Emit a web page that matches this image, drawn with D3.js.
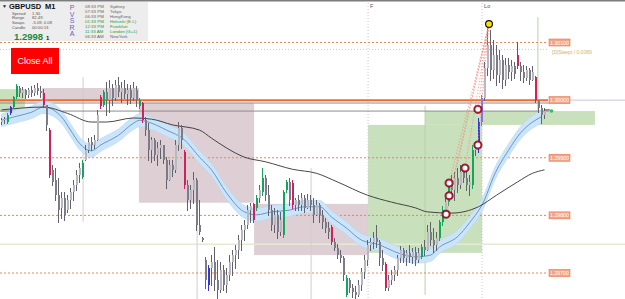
<!DOCTYPE html>
<meta charset="utf-8">
<script src="https://d3js.org/d3.v7.min.js"></script>
<style>
body { margin: 0; background: #fff; }
svg { display: block; font-family: "Liberation Sans", Arial, sans-serif; }
</style>
<body>
<div id="chart"></div>
<script>
// GBPUSD M1 candles (index 0 = leftmost bar)
var highs = [
  1.29969,1.29971,1.29977,1.29990,1.30007,1.30028,1.30024,1.30023,1.30019,1.30021,
  1.30024,1.30026,1.30029,1.30024,1.30019,1.29991,1.29951,1.29887,1.29882,1.29865,
  1.29841,1.29841,1.29835,1.29847,1.29861,1.29879,1.29891,1.29896,1.29922,1.29934,
  1.29936,1.29939,1.29983,1.30009,1.30017,1.30031,1.30035,1.30028,1.30035,1.30040,
  1.30031,1.30035,1.30028,1.30026,1.30031,1.30024,1.30003,1.29997,1.29971,1.29960,
  1.29936,1.29934,1.29927,1.29931,1.29922,1.29901,1.29896,1.29896,1.29931,1.29962,
  1.29957,1.29913,1.29861,1.29853,1.29875,1.29865,1.29827,1.29763,1.29728,1.29714,
  1.29731,1.29745,1.29723,1.29719,1.29714,1.29709,1.29731,1.29740,1.29749,1.29766,
  1.29783,1.29792,1.29818,1.29822,1.29822,1.29835,1.29853,1.29882,1.29870,1.29853,
  1.29818,1.29813,1.29809,1.29806,1.29844,1.29861,1.29865,1.29861,1.29830,1.29835,
  1.29839,1.29835,1.29837,1.29835,1.29830,1.29827,1.29822,1.29809,1.29796,1.29789,
  1.29783,1.29761,1.29750,1.29740,1.29730,1.29697,1.29692,1.29681,1.29678,1.29688,
  1.29709,1.29731,1.29757,1.29761,1.29771,1.29783,1.29757,1.29740,1.29719,1.29697,
  1.29705,1.29712,1.29731,1.29747,1.29744,1.29740,1.29749,1.29744,1.29745,1.29744,
  1.29750,1.29757,1.29783,1.29789,1.29778,1.29771,1.29792,1.29816,1.29830,1.29861,
  1.29870,1.29875,1.29882,1.29887,1.29887,1.29879,1.29870,1.29922,1.29927,1.29969,
  1.30009,1.30066,1.30132,1.30121,1.30104,1.30095,1.30087,1.30078,1.30073,1.30073,
  1.30069,1.30066,1.30101,1.30066,1.30061,1.30059,1.30055,1.30059,1.30042,1.30000,
  1.29991,1.29986];
var lows = [
  1.29958,1.29960,1.29960,1.29976,1.29986,1.30003,1.30007,1.30005,1.30003,1.30005,
  1.30007,1.30009,1.30010,1.30005,1.29988,1.29948,1.29867,1.29853,1.29827,1.29789,
  1.29796,1.29792,1.29806,1.29813,1.29827,1.29844,1.29858,1.29865,1.29896,1.29910,
  1.29913,1.29917,1.29931,1.29986,1.29990,1.29974,1.29979,1.29991,1.30000,1.30007,
  1.29997,1.30003,1.29993,1.29995,1.30000,1.29990,1.29986,1.29962,1.29939,1.29896,
  1.29893,1.29896,1.29887,1.29899,1.29891,1.29847,1.29861,1.29868,1.29875,1.29913,
  1.29917,1.29847,1.29809,1.29813,1.29822,1.29775,1.29768,1.29756,1.29674,1.29671,
  1.29679,1.29671,1.29657,1.29667,1.29671,1.29667,1.29688,1.29697,1.29709,1.29726,
  1.29740,1.29757,1.29778,1.29789,1.29789,1.29809,1.29823,1.29835,1.29827,1.29801,
  1.29775,1.29771,1.29761,1.29766,1.29763,1.29841,1.29818,1.29813,1.29809,1.29809,
  1.29809,1.29806,1.29813,1.29809,1.29789,1.29801,1.29789,1.29778,1.29771,1.29761,
  1.29750,1.29740,1.29726,1.29719,1.29688,1.29660,1.29667,1.29659,1.29657,1.29660,
  1.29671,1.29692,1.29714,1.29740,1.29744,1.29745,1.29714,1.29705,1.29671,1.29671,
  1.29681,1.29688,1.29697,1.29719,1.29719,1.29714,1.29719,1.29718,1.29714,1.29719,
  1.29726,1.29731,1.29740,1.29749,1.29737,1.29740,1.29757,1.29783,1.29801,1.29818,
  1.29830,1.29827,1.29841,1.29847,1.29858,1.29844,1.29835,1.29847,1.29905,1.29910,
  1.29957,1.30000,1.30043,1.30035,1.30038,1.30026,1.30031,1.30021,1.30026,1.30038,
  1.30035,1.30038,1.30055,1.30035,1.30031,1.30035,1.30028,1.30035,1.29997,1.29979,
  1.29960,1.29969];
var opens = [
  1.29962,1.29965,1.29962,1.29977,1.29988,1.30005,1.30021,1.30012,1.30017,1.30009,
  1.30017,1.30012,1.30021,1.30016,1.30012,1.29991,1.29948,1.29879,1.29861,1.29835,
  1.29813,1.29830,1.29809,1.29827,1.29841,1.29853,1.29870,1.29867,1.29896,1.29913,
  1.29927,1.29922,1.29931,1.30005,1.29991,1.30014,1.30000,1.30021,1.30003,1.30026,
  1.30014,1.30021,1.30010,1.30017,1.30003,1.30017,1.29990,1.29995,1.29965,1.29948,
  1.29913,1.29931,1.29905,1.29917,1.29922,1.29896,1.29861,1.29887,1.29879,1.29922,
  1.29951,1.29910,1.29853,1.29827,1.29844,1.29861,1.29783,1.29761,1.29723,1.29679,
  1.29709,1.29719,1.29688,1.29671,1.29705,1.29679,1.29697,1.29719,1.29731,1.29740,
  1.29757,1.29775,1.29783,1.29809,1.29820,1.29813,1.29830,1.29841,1.29865,1.29835,
  1.29809,1.29783,1.29801,1.29771,1.29766,1.29844,1.29858,1.29856,1.29818,1.29827,
  1.29818,1.29830,1.29813,1.29827,1.29818,1.29801,1.29818,1.29801,1.29789,1.29778,
  1.29780,1.29754,1.29744,1.29731,1.29726,1.29662,1.29688,1.29674,1.29667,1.29662,
  1.29679,1.29702,1.29723,1.29749,1.29754,1.29761,1.29754,1.29726,1.29716,1.29674,
  1.29688,1.29697,1.29705,1.29726,1.29740,1.29726,1.29735,1.29728,1.29737,1.29723,
  1.29728,1.29745,1.29740,1.29771,1.29757,1.29749,1.29761,1.29789,1.29809,1.29823,
  1.29853,1.29844,1.29865,1.29853,1.29875,1.29865,1.29853,1.29853,1.29913,1.29920,
  1.29962,1.30003,1.30055,1.30095,1.30052,1.30078,1.30043,1.30069,1.30035,1.30061,
  1.30049,1.30059,1.30078,1.30059,1.30049,1.30038,1.30052,1.30035,1.30040,1.30000,
  1.29986,1.29974];
var closes = [
  1.29965,1.29967,1.29974,1.29988,1.30005,1.30024,1.30012,1.30017,1.30009,1.30017,
  1.30012,1.30021,1.30016,1.30012,1.29991,1.29957,1.29870,1.29858,1.29835,1.29809,
  1.29830,1.29801,1.29827,1.29841,1.29853,1.29870,1.29882,1.29891,1.29913,1.29927,
  1.29922,1.29931,1.29974,1.29990,1.30014,1.30000,1.30021,1.30003,1.30026,1.30014,
  1.30021,1.30010,1.30017,1.30003,1.30021,1.30000,1.30000,1.29965,1.29948,1.29913,
  1.29931,1.29905,1.29917,1.29922,1.29896,1.29861,1.29887,1.29879,1.29922,1.29951,
  1.29931,1.29853,1.29827,1.29844,1.29861,1.29783,1.29771,1.29757,1.29688,1.29709,
  1.29719,1.29688,1.29671,1.29705,1.29679,1.29697,1.29719,1.29731,1.29740,1.29757,
  1.29775,1.29783,1.29809,1.29816,1.29792,1.29830,1.29844,1.29865,1.29835,1.29809,
  1.29783,1.29801,1.29771,1.29792,1.29841,1.29858,1.29827,1.29818,1.29827,1.29818,
  1.29830,1.29813,1.29827,1.29818,1.29801,1.29818,1.29801,1.29789,1.29778,1.29771,
  1.29754,1.29744,1.29731,1.29726,1.29697,1.29692,1.29674,1.29667,1.29662,1.29679,
  1.29702,1.29723,1.29749,1.29754,1.29761,1.29754,1.29726,1.29714,1.29674,1.29688,
  1.29697,1.29705,1.29726,1.29740,1.29726,1.29735,1.29728,1.29737,1.29723,1.29735,
  1.29745,1.29740,1.29771,1.29757,1.29749,1.29761,1.29789,1.29809,1.29823,1.29853,
  1.29844,1.29865,1.29853,1.29875,1.29865,1.29853,1.29858,1.29913,1.29920,1.29962,
  1.30003,1.30055,1.30095,1.30052,1.30078,1.30043,1.30069,1.30035,1.30061,1.30049,
  1.30059,1.30045,1.30059,1.30049,1.30038,1.30052,1.30035,1.30049,1.30000,1.29986,
  1.29974,1.29981];

// PVSRA volume colouring (bar indices)
var greenBars  = [2,4,5,27,34,46,85,87,94,95,115,140,146,147,149,157];
var redBars    = [14,16,33,47,61,84,97,110,128,172,178];
var blueBars   = [3,69,159];
var violetBars = [160];

// moving average (black) and envelope mid line (blue), read at bar indices
var maIdx = [0,14,22,30,35,44,50,57,66,70,75,81,88,97,105,112,122,130,138,142,150,159,165,172,177,181];
var maVal = [1.29983,1.29988,1.29977,1.29962,1.29962,1.29969,1.29967,1.29957,1.29948,1.29934,1.29917,1.29901,1.29893,
             1.29880,1.29873,1.29858,1.29835,1.29823,1.29813,1.29806,1.29804,1.29815,1.29835,1.29858,1.29873,1.29879];
var bandIdx = [0,5,10,14,20,23,26,30,33,39,44,46,50,55,61,66,70,75,81,85,90,96,101,106,110,115,120,126,131,138,143,146,152,156,161,164,169,173,177,180];
var bandMid = [1.29965,1.29972,1.29979,1.29988,1.29971,1.29948,1.29925,1.29912,1.29922,1.29939,
               1.29960,1.29965,1.29960,1.29948,1.29931,1.29901,1.29879,1.29839,1.29806,1.29801,
               1.29806,1.29809,1.29815,1.29815,1.29797,1.29778,1.29757,1.29749,1.29737,1.29728,
               1.29731,1.29745,1.29763,1.29787,1.29827,1.29867,1.29913,1.29943,1.29962,1.29971];
var bandHalf = 0.00011;

// supply / demand zones
var zoneFrom = [-0.5, 13.5, 45.8, 84.2, 122.2, 141.2];
var zoneTo   = [7.8, 45.8, 84.2, 122.2, 160.2, 197.8];
var zoneHigh = [1.30019, 1.30021, 1.29995, 1.29820, 1.29957, 1.29981];
var zoneLow  = [1.29979, 1.30000, 1.29822, 1.29731, 1.29735, 1.29957];
var zoneType = ["demand", "supply", "supply", "supply", "demand", "demand"];

// round number levels
var levels = [1.30100, 1.30000, 1.29900, 1.29800, 1.29700];
var levelLabels = ["1.30100", "1.30000", "1.29900", "1.29800", "1.29700"];

// fan points (swing low markers) and the high
var fanIdx = [158.8, 158.8, 154.5, 149.2, 149.2, 148.2];
var fanPrice = [1.29984, 1.29922, 1.29882, 1.29856, 1.29834, 1.29802];
var peakIdx = 162.5, peakPrice = 1.30132;

// header panel
var infoNames = ["Spread", "Range", "Swaps", "Candle"];
var infoValues = ["1.30", "82.49", "-5.09, 0.08", "00:00:13"];
var sessionTimes = ["08:33 PM", "07:33 PM", "06:33 PM", "01:33 PM", "12:33 PM", "11:33 AM", "06:33 AM"];
var sessionCities = ["Sydney", "Tokyo", "HongKong", "Helsinki (E.L)", "Frankfurt", "London (G+1)", "NewYork"];
var sessionOpen = [false, false, false, true, true, true, false];

var W = 625, H = 299;
var svg = d3.select("#chart").append("svg").attr("width", W).attr("height", H);

var x = d3.scaleLinear().domain([0, 181]).range([1.5, 544.5]);
var y = d3.scaleLinear().domain([1.297, 1.301]).range([273, 42.5]);

// zones
svg.append("g").selectAll("rect")
    .data(zoneFrom)
    .enter().append("rect")
    .attr("x", function (d, i) { return x(d); })
    .attr("width", function (d, i) { return x(zoneTo[i]) - x(d); })
    .attr("y", function (d, i) { return y(zoneHigh[i]); })
    .attr("height", function (d, i) { return y(zoneLow[i]) - y(zoneHigh[i]); })
    .attr("fill", function (d, i) { return zoneType[i] == "demand" ? "#c8e0bb" : "#ddcfd3"; });

// faint horizontal
svg.append("line").attr("x1", 0).attr("x2", W)
    .attr("y1", y(1.2975)).attr("y2", y(1.2975))
    .attr("stroke", "#e4ead6").attr("stroke-width", 1.5);

// vertical separators
var sepIdx = [122.2, 160.2];
var sepText = ["F", "Lo"];
sepIdx.forEach(function (d, i) {
  svg.append("line").attr("x1", x(d)).attr("x2", x(d)).attr("y1", 0).attr("y2", H)
      .attr("stroke", "#c9c9d2").attr("stroke-dasharray", "1,2");
  svg.append("text").attr("x", x(d) + 2).attr("y", 8).text(sepText[i])
      .attr("font-size", 5.5).attr("fill", "#555566");
});
// light wick-like lines
var lightIdx = [27.2, 65.2, 103.2];
var lightTop = [1.30040, 1.29879, 1.29882];
var lightBot = [1.29789, 1.29650, 1.29650];
lightIdx.forEach(function (d, i) {
  svg.append("line").attr("x1", x(d)).attr("x2", x(d))
      .attr("y1", y(lightTop[i])).attr("y2", y(lightBot[i]))
      .attr("stroke", "#d6ccd0").attr("stroke-width", 1);
});
// green vertical markers
var gvIdx = [141.2, 178.8];
var gvTop = [1.29990, 1.30144];
var gvBot = [1.29662, 1.29957];
gvIdx.forEach(function (d, i) {
  svg.append("line").attr("x1", x(d)).attr("x2", x(d))
      .attr("y1", y(gvTop[i])).attr("y2", y(gvBot[i]))
      .attr("stroke", "#b5d3a5").attr("stroke-width", 1);
});

// levels
levels.forEach(function (p, i) {
  var solid = p == 1.30000;
  svg.append("line").attr("x1", 0).attr("x2", 548)
      .attr("y1", y(p)).attr("y2", y(p))
      .attr("stroke", solid ? "#f06a2c" : "#e8865a")
      .attr("stroke-width", solid ? 2 : 1)
      .attr("stroke-dasharray", solid ? null : "2,2");
});
svg.append("line").attr("x1", 0).attr("x2", 548)
    .attr("y1", y(1.30088)).attr("y2", y(1.30088))
    .attr("stroke", "#c8c8c8").attr("stroke-dasharray", "1,2");
[1.29995, 1.29981].forEach(function (p) {
  svg.append("line").attr("x1", 0).attr("x2", 549)
      .attr("y1", y(p)).attr("y2", y(p))
      .attr("stroke", "#8c8c8c").attr("stroke-width", 1);
});
svg.append("line").attr("x1", 570).attr("x2", W)
    .attr("y1", y(1.3)).attr("y2", y(1.3))
    .attr("stroke", "#cbc3e0");

// envelope band
var band = bandIdx.map(function (d, i) { return { i: d, v: bandMid[i] }; });
svg.append("path").datum(band)
    .attr("d", d3.area().curve(d3.curveMonotoneX)
        .x(function (d) { return x(d.i); })
        .y0(function (d) { return y(d.v - bandHalf); })
        .y1(function (d) { return y(d.v + bandHalf); }))
    .attr("fill", "#cce4fa").attr("stroke", "#b3d6f4").attr("stroke-width", 0.6);
svg.append("path").datum(band)
    .attr("d", d3.line().curve(d3.curveMonotoneX)
        .x(function (d) { return x(d.i); })
        .y(function (d) { return y(d.v); }))
    .attr("fill", "none").attr("stroke", "#4f86b0").attr("stroke-width", 0.8);

// moving average
var ma = maIdx.map(function (d, i) { return { i: d, v: maVal[i] }; });
svg.append("path").datum(ma)
    .attr("d", d3.line().curve(d3.curveMonotoneX)
        .x(function (d) { return x(d.i); })
        .y(function (d) { return y(d.v); }))
    .attr("fill", "none").attr("stroke", "#333").attr("stroke-width", 0.9);

// candles
function barColor(i) {
  if (greenBars.indexOf(i) >= 0) return "#16a35c";
  if (redBars.indexOf(i) >= 0) return "#d21f5e";
  if (blueBars.indexOf(i) >= 0) return "#3333e0";
  if (violetBars.indexOf(i) >= 0) return "#8c6ee0";
  return null;
}
var candles = svg.append("g").attr("shape-rendering", "crispEdges");
highs.forEach(function (h, i) {
  var c = barColor(i);
  var up = closes[i] >= opens[i];
  candles.append("line")
      .attr("x1", x(i)).attr("x2", x(i))
      .attr("y1", y(h)).attr("y2", y(lows[i]) + 1)
      .attr("stroke", c || "#62626f").attr("stroke-width", 1);
  var top = y(Math.max(opens[i], closes[i])), bot = y(Math.min(opens[i], closes[i]));
  candles.append("rect")
      .attr("x", x(i) - 0.5).attr("width", 2)
      .attr("y", top).attr("height", Math.max(1, bot - top))
      .attr("fill", c || (up ? "#b8b8c0" : "#7c7c88"));
});

// fan lines and markers
fanIdx.forEach(function (d, i) {
  svg.append("line").attr("x1", x(d)).attr("y1", y(fanPrice[i]))
      .attr("x2", x(peakIdx)).attr("y2", y(peakPrice))
      .attr("stroke", "#f08a80").attr("stroke-width", 0.7).attr("stroke-dasharray", "1.5,1.5");
});
fanIdx.forEach(function (d, i) {
  svg.append("circle").attr("cx", x(d)).attr("cy", y(fanPrice[i])).attr("r", 3.3)
      .attr("fill", "#fff").attr("stroke", "#c8102e").attr("stroke-width", 1.6);
  svg.append("circle").attr("cx", x(d)).attr("cy", y(fanPrice[i])).attr("r", 4.2)
      .attr("fill", "none").attr("stroke", "#222").attr("stroke-width", 0.6);
});
svg.append("circle").attr("cx", x(peakIdx)).attr("cy", y(peakPrice)).attr("r", 3.4)
    .attr("fill", "#ffe400").attr("stroke", "#111").attr("stroke-width", 1.2);

// current price marker
svg.append("line").attr("x1", 544).attr("x2", 550).attr("y1", y(1.29983)).attr("y2", y(1.29983))
    .attr("stroke", "#444");
svg.append("circle").attr("cx", 551.5).attr("cy", y(1.29981)).attr("r", 1.8).attr("fill", "#22c55e");

// level labels
levels.forEach(function (p, i) {
  svg.append("rect").attr("x", 549).attr("y", y(p) - 3.5).attr("width", 21).attr("height", 7)
      .attr("fill", "#f3a484").attr("stroke", "#e7784c").attr("stroke-width", 0.6);
  svg.append("text").attr("x", 559.5).attr("y", y(p) + 2).attr("text-anchor", "middle")
      .attr("font-size", 5.2).attr("fill", "#fff").text(levelLabels[i]);
});
svg.append("text").attr("x", 552).attr("y", 54).attr("font-size", 5)
    .attr("fill", "#cdb468").text("[D]Swept / 0.0089");

// top border
svg.append("rect").attr("x", 0).attr("y", 0).attr("width", W).attr("height", 1.5).attr("fill", "#7d7d7d");

// header panel
var hdr = svg.append("g");
hdr.append("rect").attr("x", 0).attr("y", 2).attr("width", 148).attr("height", 39).attr("fill", "#ededed");
hdr.append("text").attr("x", 2).attr("y", 8).attr("font-size", 5).attr("fill", "#222").text("▼");
hdr.append("text").attr("x", 9).attr("y", 9).attr("font-size", 7.5).attr("font-weight", "bold")
    .attr("fill", "#111").text("GBPUSD");
hdr.append("text").attr("x", 45).attr("y", 9).attr("font-size", 7.5).attr("font-weight", "bold")
    .attr("fill", "#111").text("M1");
infoNames.forEach(function (n, i) {
  hdr.append("text").attr("x", 12).attr("y", 14.5 + i * 4.7).attr("font-size", 4.2)
      .attr("fill", "#555").text(n);
  hdr.append("text").attr("x", 32).attr("y", 14.5 + i * 4.7).attr("font-size", 4.2)
      .attr("fill", "#555").text(infoValues[i]);
});
hdr.append("text").attr("x", 14).attr("y", 39.5).attr("font-size", 9.5).attr("font-weight", "bold")
    .attr("fill", "#1a8a3a").text("1.2998");
hdr.append("text").attr("x", 46).attr("y", 39.5).attr("font-size", 6).attr("font-weight", "bold")
    .attr("fill", "#111").text("1");
["P", "V", "S", "R", "A"].forEach(function (l, i) {
  hdr.append("text").attr("x", 72).attr("y", 10 + i * 6.6).attr("text-anchor", "middle")
      .attr("font-size", 7).attr("fill", "#6a5fc8").text(l);
});
sessionTimes.forEach(function (t, i) {
  var col = sessionOpen[i] ? "#2a9a3a" : "#666";
  hdr.append("text").attr("x", 85).attr("y", 7.8 + i * 5.1).attr("font-size", 4.4)
      .attr("fill", col).text(t);
  hdr.append("text").attr("x", 110).attr("y", 7.8 + i * 5.1).attr("font-size", 4.4)
      .attr("fill", col).text(sessionCities[i]);
});
// dashed 1.301 line continues below header
svg.append("line").attr("x1", 0).attr("x2", 148).attr("y1", y(1.301)).attr("y2", y(1.301))
    .attr("stroke", "#e8865a").attr("stroke-dasharray", "2,2");

// Close All button
svg.append("rect").attr("x", 11).attr("y", 48).attr("width", 48).attr("height", 26).attr("fill", "#ff0000");
svg.append("text").attr("x", 35).attr("y", 64).attr("text-anchor", "middle")
    .attr("font-size", 9).attr("fill", "#fff").text("Close All");
</script>
</body>
